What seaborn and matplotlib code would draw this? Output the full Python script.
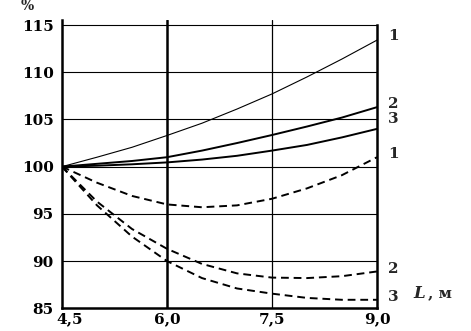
import matplotlib
matplotlib.use("Agg")
import matplotlib.pyplot as plt
import matplotlib.transforms as mtransforms
import seaborn as sns
import pandas as pd

# data
L = [4.5, 5.0, 5.5, 6.0, 6.5, 7.0, 7.5, 8.0, 8.5, 9.0]
solid1 = [100, 101.0, 102.05, 103.3, 104.6, 106.1, 107.7, 109.5, 111.4, 113.4]
solid2 = [100, 100.3, 100.6, 101.0, 101.7, 102.5, 103.35, 104.25, 105.2, 106.3]
solid3 = [100, 100.1, 100.25, 100.45, 100.75, 101.15, 101.7, 102.3, 103.1, 104.0]
dash1 = [100, 98.3, 96.9, 96.0, 95.7, 95.9, 96.6, 97.7, 99.1, 101.0]
dash2 = [100, 96.3, 93.4, 91.3, 89.7, 88.7, 88.25, 88.2, 88.4, 88.9]
dash3 = [100, 95.9, 92.6, 90.0, 88.2, 87.1, 86.55, 86.1, 85.9, 85.9]

curve_labels = ["1", "2", "3", "1", "2", "3"]
label_y = [113.8, 106.6, 105.0, 101.3, 89.2, 86.2]
xticks = [4.5, 6.0, 7.5, 9.0]
xtick_labels = ["4,5", "6,0", "7,5", "9,0"]
yticks = [85, 90, 95, 100, 105, 110, 115]

sns.set_theme(style="white")
plt.rcParams["font.family"] = ["DejaVu Serif"]

df = pd.DataFrame({"L": L, "s1": solid1, "s2": solid2, "s3": solid3,
                   "d1": dash1, "d2": dash2, "d3": dash3})

fig = plt.figure(figsize=(4.71, 3.31), dpi=100)
ax = fig.add_axes([0.1316, 0.0686, 0.6688, 0.8701])

# grid
for v in yticks[1:]:
    ax.axhline(v, color="black", lw=0.8, zorder=1)
ax.axvline(6.0, color="black", lw=1.8, zorder=1)
ax.axvline(7.5, color="black", lw=0.9, zorder=1)

sns.lineplot(data=df, x="L", y="s1", ax=ax, color="black", lw=0.8)
sns.lineplot(data=df, x="L", y="s2", ax=ax, color="black", lw=1.4)
sns.lineplot(data=df, x="L", y="s3", ax=ax, color="black", lw=1.4)
for col in ["d1", "d2", "d3"]:
    sns.lineplot(data=df, x="L", y=col, ax=ax, color="black", lw=1.4,
                 dashes=False, linestyle=(0, (4, 2.5)))

ax.set_xlim(4.5, 9.0)
ax.set_ylim(85, 115.5)
ax.set_xticks(xticks, xtick_labels)
ax.set_yticks(yticks)
ax.set_xlabel("")
ax.set_ylabel("")
ax.tick_params(length=0, labelsize=11, colors="black")
ax.tick_params(axis="x", pad=3)
ax.tick_params(axis="y", pad=6)
for lab in ax.get_xticklabels() + ax.get_yticklabels():
    lab.set_fontweight("bold")

first = ax.get_xticklabels()[0]
first.set_transform(first.get_transform() +
                    mtransforms.ScaledTranslation(8 / 100, 0, fig.dpi_scale_trans))

ax.spines["top"].set_visible(False)
for s in ["left", "bottom", "right"]:
    ax.spines[s].set_color("black")
    ax.spines[s].set_linewidth(1.8)
ax.spines["right"].set_bounds(85, 115)

for t, y in zip(curve_labels, label_y):
    ax.text(9.16, y, t, fontsize=11, fontweight="bold", va="center",
            ha="left", clip_on=False)

fig.text(27 / 471, 1 - 6 / 331, "%", fontsize=10, fontweight="bold",
         ha="center", va="center")
fig.text(413 / 471, 1 - 293 / 331, "L", fontsize=12, style="italic",
         fontweight="bold", ha="left", va="center")
fig.text(428 / 471, 1 - 293 / 331, ", м", fontsize=11, fontweight="bold",
         ha="left", va="center")

fig.savefig("out.png", dpi=100)
